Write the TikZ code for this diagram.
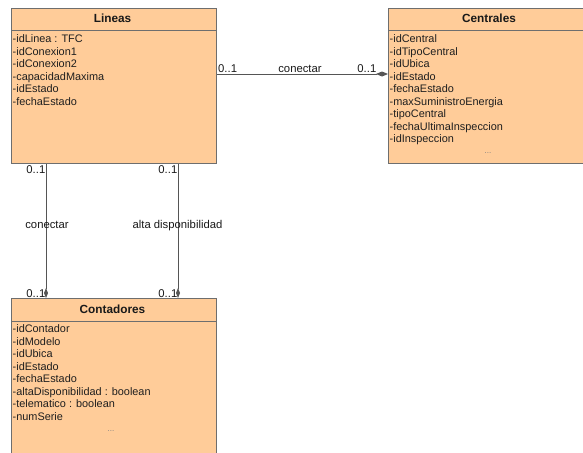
\documentclass[tikz,border=0pt]{standalone}
\usepackage{fontspec}
\setmainfont{Liberation Sans}
\usetikzlibrary{arrows.meta}
\definecolor{classfill}{RGB}{255,204,153}
\definecolor{classline}{RGB}{110,110,110}
\definecolor{assocline}{RGB}{85,85,85}
\tikzset{
  classbox/.style={draw=classline, line width=1.1pt, fill=classfill, rectangle, anchor=north west, inner sep=0pt},
  classtitle/.style={font=\fontsize{11.8}{13}\selectfont\bfseries, text=black!90, inner sep=0pt},
  attrlist/.style={font=\fontsize{10.9}{12.55}\selectfont, text=black!88, align=left, anchor=north west, inner sep=0pt},
  dots/.style={font=\fontsize{8}{10}\selectfont, text=black!50, inner sep=0pt},
  assoc/.style={draw=assocline, line width=1pt},
  lbl/.style={font=\fontsize{11.3}{13}\selectfont, text=black!90, inner sep=0pt},
}
\begin{document}
\begin{tikzpicture}[x=1pt,y=-1pt]
\useasboundingbox (0,0) rectangle (583,452);
\clip (0,0) rectangle (583,452);

% Lineas
\node[classbox, minimum width=205pt, minimum height=155pt] (lineas) at (11,8) {};
\draw[draw=classline, line width=1pt] (11,31) coordinate (lh1) -- (216,31) coordinate (lh2);
\node[classtitle] (lineasT) at (112.5,18.5) {Lineas};
\node[attrlist] (lineasA) at (12.5,34.5) {-idLinea : TFC\\-idConexion1\\-idConexion2\\-capacidadMaxima\\-idEstado\\-fechaEstado};

% Centrales
\node[classbox, minimum width=205pt, minimum height=155pt] (centrales) at (388,8) {};
\draw[draw=classline, line width=1pt] (388,31) coordinate (ch1) -- (593,31) coordinate (ch2);
\node[classtitle] (centralesT) at (489,18.5) {Centrales};
\node[attrlist] (centralesA) at (389.5,34.5) {-idCentral\\-idTipoCentral\\-idUbica\\-idEstado\\-fechaEstado\\-maxSuministroEnergia\\-tipoCentral\\-fechaUltimaInspeccion\\-idInspeccion};
\node[dots] (centralesD) at (488,153) {...};

% Contadores
\node[classbox, minimum width=205pt, minimum height=170pt] (contadores) at (11,298) {};
\draw[draw=classline, line width=1pt] (11,321) coordinate (kh1) -- (216,321) coordinate (kh2);
\node[classtitle] (contadoresT) at (112.5,309) {Contadores};
\node[attrlist] (contadoresA) at (12.5,324.5) {-idContador\\-idModelo\\-idUbica\\-idEstado\\-fechaEstado\\-altaDisponibilidad : boolean\\-telematico : boolean\\-numSerie};
\node[dots] (contadoresD) at (111,431) {...};

% Lineas -- Centrales
\draw[assoc, -{Diamond[length=12pt,width=5pt,fill=assocline]}] (lineas.east |- 0,74) -- (centrales.west |- 0,74);
\node[lbl, anchor=base west] (h1) at (218,72) {0..1};
\node[lbl, anchor=base] (h2) at (300,72.5) {conectar};
\node[lbl, anchor=base east] (h3) at (376.5,72) {0..1};

% Lineas -- Contadores (conectar)
\draw[assoc, -{Diamond[length=10pt,width=4pt,fill=assocline]}] (lineas.south -| 46,0) -- (contadores.north -| 46,0);
\node[lbl, anchor=base east] (v1a) at (45.5,173) {0..1};
\node[lbl, anchor=base] (v1b) at (47,228) {conectar};
\node[lbl, anchor=base east] (v1c) at (45.5,297) {0..1};

% Lineas -- Contadores (alta disponibilidad)
\draw[assoc, -{Diamond[length=10pt,width=4pt,fill=assocline]}] (lineas.south -| 178,0) -- (contadores.north -| 178,0);
\node[lbl, anchor=base east] (v2a) at (177.5,173) {0..1};
\node[lbl, anchor=base] (v2b) at (177.5,228) {alta disponibilidad};
\node[lbl, anchor=base east] (v2c) at (177.5,297) {0..1};
\end{tikzpicture}
\end{document}
